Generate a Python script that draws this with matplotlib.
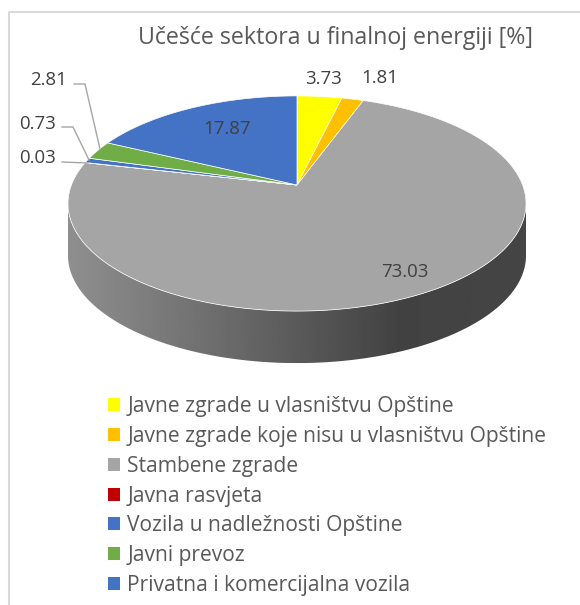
import numpy as np
import matplotlib
matplotlib.use("Agg")
import matplotlib.pyplot as plt
from matplotlib.patches import Patch, Polygon

plt.rcParams['font.family'] = ['Open Sans', 'DejaVu Sans']

title = "Učešće sektora u finalnoj energiji [%]"
sectors = ["Javne zgrade u vlasništvu Opštine",
           "Javne zgrade koje nisu u vlasništvu Opštine",
           "Stambene zgrade",
           "Javna rasvjeta",
           "Vozila u nadležnosti Opštine",
           "Javni prevoz",
           "Privatna i komercijalna vozila"]
shares = [3.73, 1.81, 73.03, 0.03, 0.73, 2.81, 17.87]
colors = ["#ffff00", "#ffc000", "#a5a5a5", "#c00000", "#4472c4", "#70ad47", "#4472c4"]

# pie centre and perspective, in image pixels
CX, CY = 297, 185
BX, BY, P = 225.6, 104.4, 0.172
DEPTH = 52


def project(ang, r=1.0):
    # angle is clockwise from 12 o'clock
    u = r * np.sin(ang)
    v = r * np.cos(ang)
    w = 1 + P * v
    return CX + BX * u / w, CY - BY * v / w


fig = plt.figure(figsize=(5.8, 6.05), dpi=100)
ax = fig.add_axes([0, 0, 1, 1])
ax.set_xlim(0, 580)
ax.set_ylim(605, 0)
ax.axis("off")

# side of the pie, shaded left to right
t = np.linspace(0, 2 * np.pi, 721)
ex, ey = project(t)
left = np.argmin(ex)
right = np.argmax(ex)
front = np.linspace(t[right], t[left], 200)
fx, fy = project(front)
side = np.column_stack([np.r_[fx, fx[::-1]], np.r_[fy, fy[::-1] + DEPTH]])
clip = Polygon(side, closed=True, transform=ax.transData, fc="none", ec="none")
ax.add_patch(clip)
grad = np.interp(np.linspace(0, 1, 256), [0, 0.15, 0.72, 1], [0.56, 0.50, 0.26, 0.27])
img = ax.imshow(grad[np.newaxis, :], cmap="gray", vmin=0, vmax=1, aspect="auto",
                extent=(fx.min(), fx.max(), fy.max() + DEPTH, fy.min()), zorder=1)
img.set_clip_path(clip)
ax.set_xlim(0, 580)
ax.set_ylim(605, 0)

# top face
start = 0.0
for share, col in zip(shares, colors):
    end = start + share / sum(shares) * 2 * np.pi
    a = np.linspace(start, end, max(int(share * 8), 3))
    x, y = project(a)
    ax.fill(np.r_[CX, x], np.r_[CY, y], fc=col, ec="#ffffff", lw=0.5, zorder=2)
    start = end

# frame of the chart
ax.plot([9, 9, 580], [605, 12, 12], color="#d9d9d9", lw=1.5, zorder=0, clip_on=False)

ax.text(335, 38, title, fontsize=16.7, color="#595959", ha="center", va="center")

label_pos = [(323, 79), (380, 78), (405, 272), (37, 158), (37, 124), (49, 80), (227, 129)]
for share, pos in zip(shares, label_pos):
    ax.text(pos[0], pos[1], "%.2f" % share, fontsize=13.4, color="#404040",
            ha="center", va="center", zorder=4)

# leader lines
ax.plot([62, 88], [162, 163], color="#a6a6a6", lw=1, zorder=3)
ax.plot([62, 73, 89], [127, 127, 160], color="#a6a6a6", lw=1, zorder=3)
ax.plot([74, 85, 100], [84, 84, 149], color="#a6a6a6", lw=1, zorder=3)

handles = [Patch(fc=c, ec="none") for c in colors]
ax.legend(handles, sectors, loc="upper left", bbox_to_anchor=(108 / 580, 1 - 396 / 605),
          frameon=False, fontsize=15.15, labelcolor="#595959", handlelength=0.57,
          handleheight=0.57, handletextpad=0.35, labelspacing=0.42, borderpad=0, borderaxespad=0)

fig.savefig("out.png", dpi=100)
